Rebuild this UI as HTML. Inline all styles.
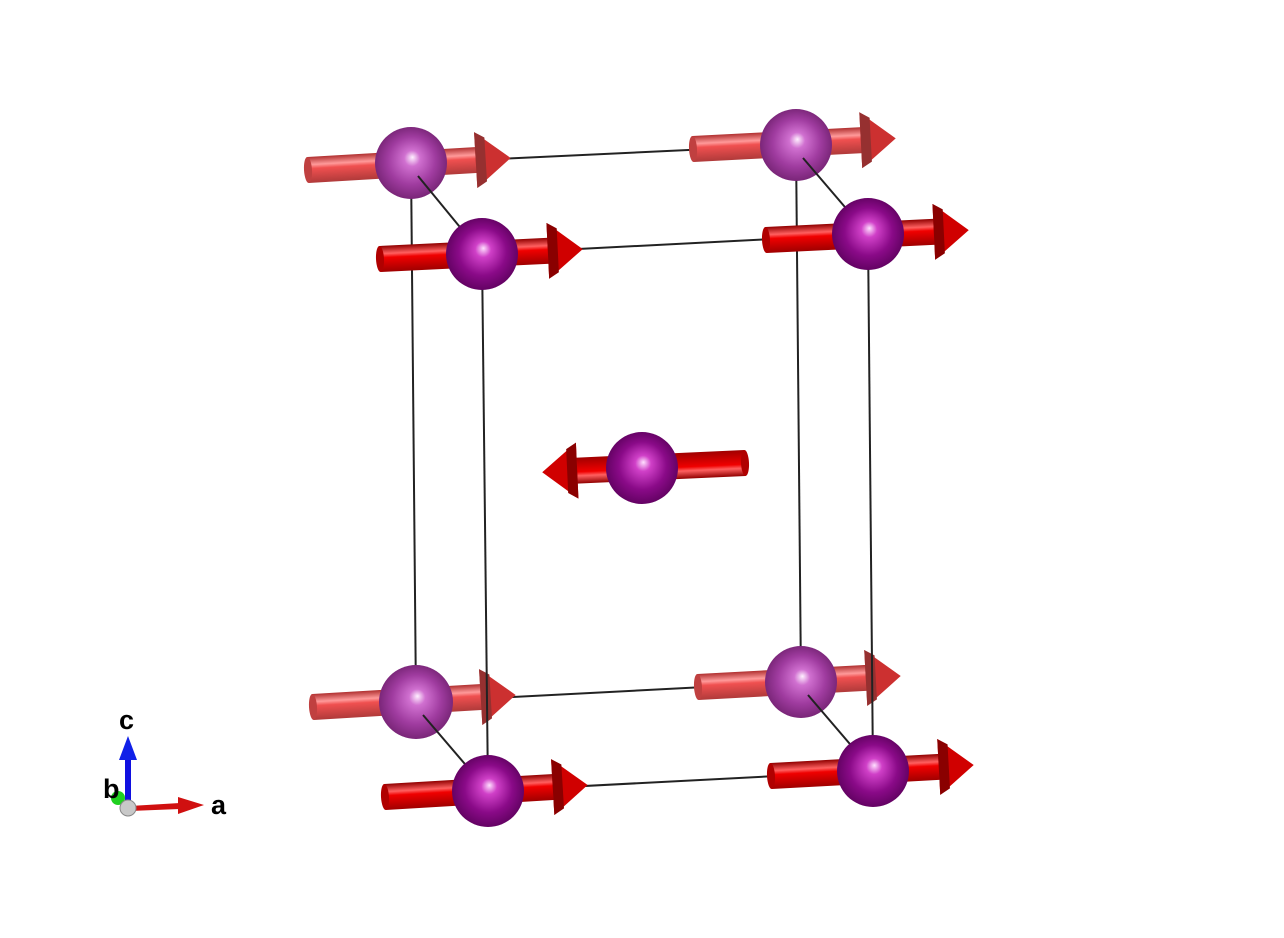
<!DOCTYPE html>
<html><head><style>html,body{margin:0;padding:0;background:#fff;}svg{display:block;}</style></head>
<body>
<svg width="1284" height="938" viewBox="0 0 1284 938" xmlns="http://www.w3.org/2000/svg">
<defs>
<linearGradient id="shF" x1="0" y1="0" x2="0" y2="1">
<stop offset="0" stop-color="#900000"/><stop offset="0.3" stop-color="#ff6060"/><stop offset="0.45" stop-color="#f00000"/><stop offset="1" stop-color="#a00000"/></linearGradient>
<linearGradient id="shB" x1="0" y1="0" x2="0" y2="1">
<stop offset="0" stop-color="#b03030"/><stop offset="0.3" stop-color="#ff9a9a"/><stop offset="0.45" stop-color="#f05050"/><stop offset="1" stop-color="#b03a3a"/></linearGradient>
<radialGradient id="spF" cx="0.5" cy="0.5" r="0.55" fx="0.52" fy="0.42">
<stop offset="0" stop-color="#ffe0ff"/><stop offset="0.2" stop-color="#d040c8"/><stop offset="0.6" stop-color="#8a0a88"/><stop offset="1" stop-color="#5a005a"/></radialGradient>
<radialGradient id="spB" cx="0.5" cy="0.5" r="0.55" fx="0.52" fy="0.42">
<stop offset="0" stop-color="#fff0ff"/><stop offset="0.2" stop-color="#d070d0"/><stop offset="0.6" stop-color="#a03ca0"/><stop offset="1" stop-color="#70206e"/></radialGradient>
<g id="arF"><rect x="0" y="-13" width="172" height="26" fill="url(#shF)"/><ellipse cx="0" cy="0" rx="4" ry="13" fill="#b00000"/><polygon points="168,-28 203,0 168,28" fill="#d00000"/><polygon points="168,-28 178,-22 178,22 168,28" fill="#8a0000"/></g>
<g id="arB"><rect x="0" y="-13" width="172" height="26" fill="url(#shB)"/><ellipse cx="0" cy="0" rx="4" ry="13" fill="#c04040"/><polygon points="168,-28 203,0 168,28" fill="#cc3030"/><polygon points="168,-28 178,-22 178,22 168,28" fill="#963030"/></g>
</defs>
<g stroke="#222" stroke-width="2" fill="none">
<line x1="411" y1="163" x2="796" y2="145"/><line x1="482" y1="254" x2="868" y2="234"/>
<line x1="416" y1="702" x2="801" y2="682"/><line x1="488" y1="791" x2="873" y2="771"/>
<line x1="411" y1="163" x2="416" y2="702"/><line x1="796" y1="145" x2="801" y2="682"/>
</g>
<!-- back atoms -->
<use href="#arB" transform="translate(308,170) rotate(-3.4)"/><circle cx="411" cy="163" r="36" fill="url(#spB)"/>
<use href="#arB" transform="translate(693,149) rotate(-3)"/><circle cx="796" cy="145" r="36" fill="url(#spB)"/>
<use href="#arB" transform="translate(313,707) rotate(-3.4)"/><circle cx="416" cy="702" r="37" fill="url(#spB)"/>
<use href="#arB" transform="translate(698,687) rotate(-3.1)"/><circle cx="801" cy="682" r="36" fill="url(#spB)"/>
<g stroke="#222" stroke-width="2">
<line x1="418" y1="176" x2="482" y2="254"/><line x1="803" y1="158" x2="868" y2="234"/>
<line x1="423" y1="715" x2="488" y2="791"/><line x1="808" y1="695" x2="873" y2="771"/>
<line x1="482" y1="254" x2="488" y2="791"/><line x1="868" y1="234" x2="873" y2="771"/>
</g>
<!-- center -->
<use href="#arF" transform="translate(745,463) rotate(177.4)"/><circle cx="642" cy="468" r="36" fill="url(#spF)"/>
<!-- front atoms -->
<use href="#arF" transform="translate(380,259) rotate(-2.8)"/><circle cx="482" cy="254" r="36" fill="url(#spF)"/>
<use href="#arF" transform="translate(766,240) rotate(-2.8)"/><circle cx="868" cy="234" r="36" fill="url(#spF)"/>
<use href="#arF" transform="translate(385,797) rotate(-3.4)"/><circle cx="488" cy="791" r="36" fill="url(#spF)"/>
<use href="#arF" transform="translate(771,776) rotate(-3.1)"/><circle cx="873" cy="771" r="36" fill="url(#spF)"/>
<!-- axes -->
<rect x="125" y="755" width="6" height="52" fill="#1010e0"/>
<polygon points="128,736 119,760 137,760" fill="#1020e8"/>
<circle cx="118" cy="798" r="7" fill="#20d020"/>
<polygon points="130,806 180,803 180,809 130,811" fill="#d01010"/>
<polygon points="178,797 204,805 178,814" fill="#d01010"/>
<circle cx="128" cy="808" r="8" fill="#c8c8c8" stroke="#888" stroke-width="1"/>
<g font-family="Liberation Sans, sans-serif" font-weight="bold" font-size="27" fill="#000">
<text x="119" y="729">c</text><text x="103" y="798">b</text><text x="211" y="814">a</text></g>
</svg>
</body></html>
